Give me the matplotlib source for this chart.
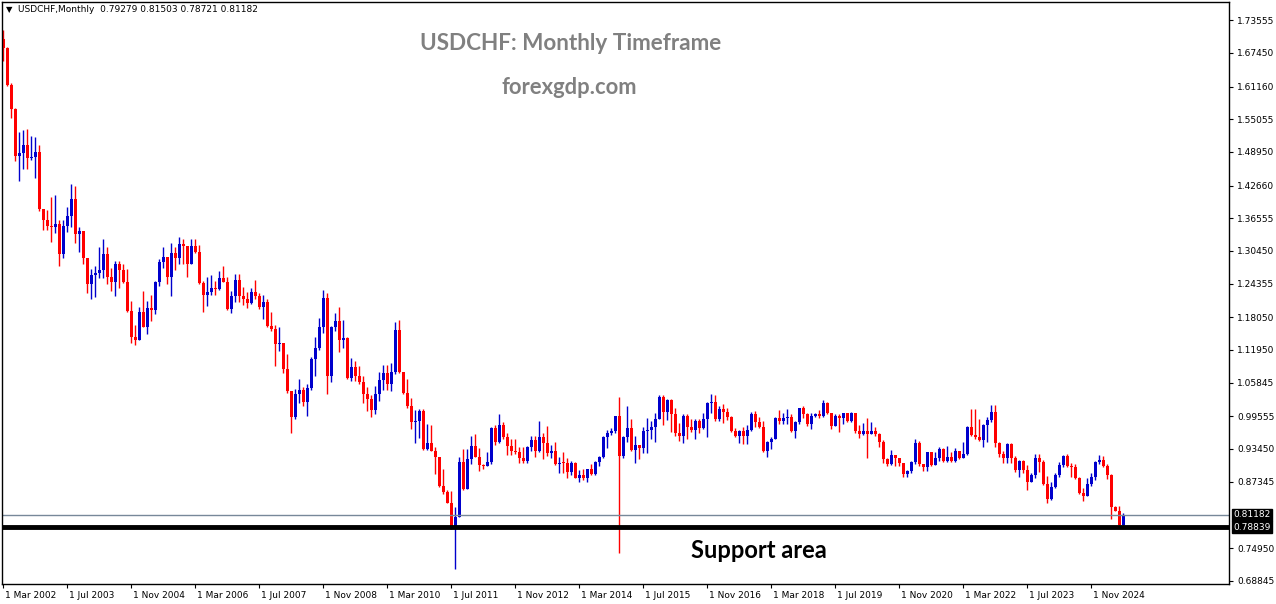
import matplotlib
matplotlib.use("Agg")
import matplotlib.pyplot as plt
import matplotlib.transforms as mtrans
import numpy as np

# USDCHF monthly bars, Mar 2002 .. Jul 2025
first_open = 1.700
closes = [
    1.683, 1.614, 1.570, 1.482, 1.488, 1.502, 1.478, 1.480, 1.490, 1.382,
    1.363, 1.351, 1.349, 1.354, 1.299, 1.351, 1.370, 1.402, 1.337, 1.342,
    1.292, 1.243, 1.260, 1.264, 1.269, 1.299, 1.255, 1.246, 1.281, 1.268,
    1.246, 1.192, 1.143, 1.138, 1.190, 1.163, 1.197, 1.195, 1.247, 1.283,
    1.293, 1.255, 1.300, 1.292, 1.318, 1.314, 1.281, 1.314, 1.302, 1.244,
    1.222, 1.227, 1.235, 1.234, 1.254, 1.246, 1.196, 1.220, 1.250, 1.220,
    1.214, 1.207, 1.228, 1.221, 1.200, 1.210, 1.164, 1.158, 1.130, 1.133,
    1.083, 1.042, 0.994, 1.037, 1.045, 1.022, 1.049, 1.103, 1.123, 1.163,
    1.217, 1.071, 1.163, 1.173, 1.138, 1.141, 1.067, 1.087, 1.070, 1.060,
    1.037, 1.027, 1.007, 1.037, 1.063, 1.076, 1.056, 1.079, 1.157, 1.079,
    1.040, 1.015, 0.984, 0.987, 1.006, 0.935, 0.946, 0.930, 0.920, 0.865,
    0.855, 0.834, 0.786, 0.807, 0.910, 0.859, 0.916, 0.940, 0.920, 0.905,
    0.903, 0.911, 0.974, 0.948, 0.979, 0.956, 0.941, 0.931, 0.928, 0.917,
    0.912, 0.939, 0.951, 0.930, 0.956, 0.946, 0.927, 0.931, 0.906, 0.909,
    0.908, 0.892, 0.909, 0.881, 0.886, 0.881, 0.897, 0.888, 0.911, 0.920,
    0.956, 0.965, 0.969, 0.996, 0.921, 0.956, 0.973, 0.933, 0.942, 0.937,
    0.969, 0.970, 0.976, 0.991, 1.032, 1.004, 1.026, 1.000, 0.964, 0.959,
    0.997, 0.976, 0.970, 0.986, 0.973, 0.990, 1.021, 1.023, 0.990, 1.009,
    1.003, 0.995, 0.969, 0.959, 0.968, 0.959, 0.970, 1.000, 0.984, 0.976,
    0.931, 0.948, 0.954, 0.993, 0.987, 0.993, 0.994, 0.969, 0.984, 1.011,
    0.999, 0.981, 0.996, 1.000, 0.996, 1.020, 1.001, 0.978, 0.996, 0.992,
    1.001, 0.987, 1.001, 0.968, 0.962, 0.968, 0.962, 0.968, 0.962, 0.948,
    0.915, 0.906, 0.923, 0.918, 0.909, 0.888, 0.893, 0.911, 0.946, 0.907,
    0.900, 0.928, 0.905, 0.918, 0.935, 0.912, 0.920, 0.912, 0.930, 0.918,
    0.925, 0.976, 0.961, 0.956, 0.951, 0.979, 0.989, 1.003, 0.946, 0.925,
    0.917, 0.944, 0.917, 0.895, 0.913, 0.895, 0.873, 0.886, 0.918, 0.911,
    0.870, 0.842, 0.864, 0.886, 0.905, 0.921, 0.903, 0.900, 0.880, 0.852,
    0.847, 0.870, 0.882, 0.911, 0.914, 0.903, 0.886, 0.827, 0.819, 0.7928,
    0.81182,
]
highs = [
    1.717, 1.686, 1.619, 1.572, 1.527, 1.531, 1.533, 1.520, 1.517, 1.502,
    1.383, 1.381, 1.405, 1.409, 1.362, 1.362, 1.387, 1.429, 1.426, 1.349,
    1.342, 1.292, 1.270, 1.277, 1.312, 1.327, 1.312, 1.273, 1.286, 1.286,
    1.281, 1.270, 1.211, 1.166, 1.200, 1.230, 1.211, 1.222, 1.249, 1.289,
    1.312, 1.293, 1.319, 1.311, 1.330, 1.326, 1.314, 1.327, 1.327, 1.315,
    1.249, 1.256, 1.259, 1.249, 1.267, 1.277, 1.256, 1.229, 1.262, 1.261,
    1.238, 1.228, 1.236, 1.250, 1.225, 1.223, 1.215, 1.190, 1.167, 1.162,
    1.133, 1.112, 1.042, 1.047, 1.065, 1.050, 1.056, 1.106, 1.144, 1.179,
    1.231, 1.226, 1.165, 1.188, 1.199, 1.175, 1.143, 1.104, 1.098, 1.090,
    1.070, 1.051, 1.035, 1.052, 1.078, 1.091, 1.091, 1.095, 1.171, 1.175,
    1.079, 1.065, 1.030, 1.007, 1.009, 1.009, 0.981, 0.979, 0.938, 0.920,
    0.897, 0.858, 0.856, 0.827, 0.920, 0.934, 0.934, 0.958, 0.963, 0.936,
    0.906, 0.928, 0.976, 0.979, 1.000, 0.985, 0.964, 0.953, 0.953, 0.939,
    0.939, 0.941, 0.958, 0.958, 0.987, 0.965, 0.978, 0.942, 0.948, 0.920,
    0.928, 0.917, 0.912, 0.910, 0.895, 0.897, 0.898, 0.907, 0.912, 0.921,
    0.959, 0.970, 0.974, 0.997, 1.032, 0.958, 1.015, 0.990, 0.958, 0.942,
    0.976, 0.993, 0.987, 1.001, 1.035, 1.035, 1.028, 1.028, 1.011, 0.983,
    0.999, 0.999, 0.990, 0.990, 0.990, 1.002, 1.023, 1.037, 1.035, 1.015,
    1.019, 1.012, 0.996, 0.973, 0.970, 0.976, 0.980, 1.003, 1.006, 0.994,
    0.987, 0.950, 0.957, 0.995, 1.007, 1.002, 1.009, 1.000, 0.986, 1.011,
    1.015, 1.002, 1.001, 1.002, 1.007, 1.026, 1.023, 1.001, 1.000, 1.000,
    1.002, 1.002, 1.003, 1.002, 0.979, 0.983, 0.992, 0.984, 0.976, 0.965,
    0.951, 0.917, 0.933, 0.923, 0.918, 0.909, 0.895, 0.912, 0.953, 0.950,
    0.907, 0.929, 0.929, 0.929, 0.939, 0.937, 0.940, 0.929, 0.937, 0.931,
    0.948, 0.978, 1.009, 1.009, 0.991, 0.981, 0.995, 1.017, 1.017, 0.948,
    0.931, 0.945, 0.945, 0.921, 0.914, 0.914, 0.904, 0.889, 0.926, 0.926,
    0.914, 0.884, 0.873, 0.890, 0.911, 0.923, 0.925, 0.908, 0.907, 0.882,
    0.861, 0.880, 0.890, 0.912, 0.923, 0.921, 0.906, 0.887, 0.828, 0.828,
    0.81503,
]
lows = [
    1.660, 1.612, 1.553, 1.473, 1.436, 1.458, 1.458, 1.475, 1.441, 1.380,
    1.344, 1.344, 1.321, 1.338, 1.276, 1.292, 1.340, 1.349, 1.319, 1.303,
    1.280, 1.226, 1.214, 1.219, 1.254, 1.254, 1.243, 1.229, 1.220, 1.235,
    1.244, 1.190, 1.132, 1.129, 1.138, 1.163, 1.149, 1.174, 1.186, 1.239,
    1.273, 1.243, 1.221, 1.268, 1.280, 1.281, 1.256, 1.281, 1.300, 1.242,
    1.190, 1.201, 1.222, 1.222, 1.231, 1.246, 1.195, 1.188, 1.210, 1.210,
    1.203, 1.198, 1.205, 1.214, 1.196, 1.178, 1.162, 1.154, 1.089, 1.117,
    1.077, 1.040, 0.965, 0.991, 1.020, 1.015, 0.997, 1.044, 1.070, 1.119,
    1.151, 1.037, 1.059, 1.154, 1.116, 1.124, 1.065, 1.062, 1.062, 1.056,
    1.020, 1.005, 0.994, 1.000, 1.025, 1.045, 1.045, 1.043, 1.074, 1.076,
    1.037, 1.012, 0.972, 0.946, 0.955, 0.933, 0.933, 0.930, 0.887, 0.864,
    0.850, 0.833, 0.785, 0.710, 0.807, 0.858, 0.877, 0.907, 0.919, 0.894,
    0.898, 0.902, 0.906, 0.942, 0.946, 0.953, 0.923, 0.923, 0.926, 0.908,
    0.909, 0.908, 0.930, 0.920, 0.928, 0.915, 0.921, 0.917, 0.905, 0.890,
    0.889, 0.881, 0.885, 0.880, 0.872, 0.877, 0.872, 0.886, 0.886, 0.903,
    0.918, 0.937, 0.960, 0.965, 0.741, 0.917, 0.948, 0.931, 0.909, 0.916,
    0.927, 0.927, 0.954, 0.948, 0.990, 0.979, 0.989, 0.967, 0.958, 0.949,
    0.945, 0.954, 0.966, 0.954, 0.964, 0.971, 0.956, 1.002, 0.987, 0.987,
    0.983, 0.989, 0.967, 0.956, 0.945, 0.944, 0.943, 0.969, 0.976, 0.974,
    0.928, 0.920, 0.934, 0.953, 0.981, 0.981, 0.981, 0.966, 0.955, 0.981,
    0.993, 0.978, 0.972, 0.994, 0.993, 0.994, 0.999, 0.972, 0.978, 0.967,
    0.981, 0.984, 0.985, 0.964, 0.955, 0.961, 0.918, 0.962, 0.959, 0.939,
    0.908, 0.903, 0.905, 0.903, 0.903, 0.882, 0.883, 0.889, 0.907, 0.903,
    0.893, 0.893, 0.903, 0.904, 0.912, 0.911, 0.911, 0.910, 0.911, 0.915,
    0.917, 0.924, 0.958, 0.954, 0.950, 0.939, 0.948, 0.985, 0.938, 0.919,
    0.908, 0.908, 0.908, 0.892, 0.883, 0.890, 0.857, 0.872, 0.881, 0.891,
    0.868, 0.833, 0.840, 0.862, 0.883, 0.900, 0.900, 0.883, 0.878, 0.850,
    0.838, 0.847, 0.866, 0.876, 0.907, 0.900, 0.878, 0.803, 0.818, 0.788,
    0.78721,
]

xlabels = ["1 Mar 2002", "1 Jul 2003", "1 Nov 2004", "1 Mar 2006", "1 Jul 2007",
           "1 Nov 2008", "1 Mar 2010", "1 Jul 2011", "1 Nov 2012", "1 Mar 2014",
           "1 Jul 2015", "1 Nov 2016", "1 Mar 2018", "1 Jul 2019", "1 Nov 2020",
           "1 Mar 2022", "1 Jul 2023", "1 Nov 2024"]
price_ticks = [1.73555, 1.67450, 1.61160, 1.55055, 1.48950, 1.42660, 1.36555,
               1.30450, 1.24355, 1.18050, 1.11950, 1.05845, 0.99555, 0.93450,
               0.87345, 0.74950, 0.68845]
last_price = 0.81182
support = 0.78839
header = "USDCHF,Monthly  0.79279 0.81503 0.78721 0.81182"

closes = np.array(closes)
opens = np.concatenate([[first_open], closes[:-1]])  # monthly bars open at prior close
highs = np.maximum(np.array(highs), np.maximum(opens, closes))
lows = np.minimum(np.array(lows), np.minimum(opens, closes))
x = np.arange(len(closes))

W, H = 1276, 604
fig = plt.figure(figsize=(W / 100, H / 100), dpi=100)
ax = fig.add_axes([2 / W, 1 - 584 / H, 1227 / W, 582 / H])
ymin, ymax = 0.6823, 1.7695
ax.set_xlim(-0.25, 306.5)
ax.set_ylim(ymin, ymax)
px = (ymax - ymin) / 582

up = closes >= opens
blue, red = "#0000cc", "#ff0000"
cols = np.where(up, blue, red)
ax.vlines(x, lows, highs, colors=cols, lw=1)
body = np.maximum(np.abs(closes - opens), px)
ax.bar(x, body, bottom=np.minimum(opens, closes), width=0.75, color=cols, lw=0)

ax.axhline(last_price, color="#778899", lw=1)
ax.axhline(support, color="black", lw=3.5)

# axes / ticks
ax.yaxis.tick_right()
ax.set_yticks(price_ticks)
ax.set_yticklabels([f"{p:.5f}" for p in price_ticks], fontsize=6.5)
ax.tick_params(axis="y", length=3, pad=3)
ax.set_xticks(np.arange(len(xlabels)) * 16)
ax.set_xticklabels(xlabels, fontsize=6.5, ha="left")
ax.tick_params(axis="x", length=3, pad=2)
off = mtrans.ScaledTranslation(2 / 100, 0, fig.dpi_scale_trans)
for t in ax.get_xticklabels():
    t.set_transform(t.get_transform() + off)
for s in ax.spines.values():
    s.set_linewidth(1)

for p in (last_price, support):
    ax.text(1.0035, p, f"{p:.5f}", transform=ax.get_yaxis_transform(), fontsize=6.5,
            color="white", va="center", ha="left",
            bbox=dict(facecolor="black", edgecolor="black", pad=1.2))

fig.text(6 / W, 1 - 10 / H, "\u25BC", fontsize=6, va="center", ha="left")
fig.text(18 / W, 1 - 10 / H, header, fontsize=6.5, va="center", ha="left")

fig.text(571 / W, 1 - 44 / H, "USDCHF: Monthly Timeframe", fontsize=16.2,
         fontweight="bold", color="#808080", ha="center", va="center", family="Lato")
fig.text(569 / W, 1 - 87 / H, "forexgdp.com", fontsize=15.8, fontweight="bold",
         color="#808080", ha="center", va="center", family="Lato")
fig.text(759 / W, 1 - 550 / H, "Support area", fontsize=17, fontweight="bold",
         color="black", ha="center", va="center", family="Lato")

fig.savefig("out.png", dpi=100)
